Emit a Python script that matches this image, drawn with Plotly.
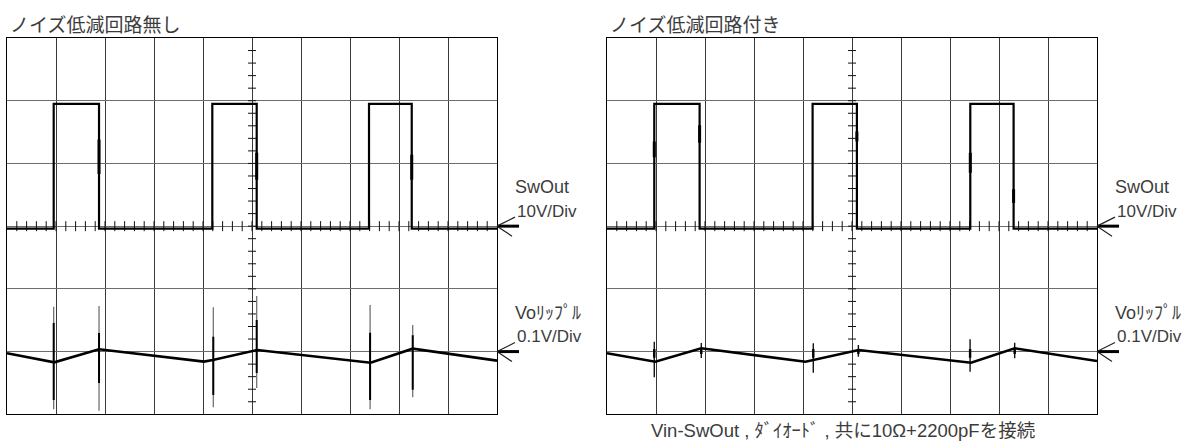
import plotly.graph_objects as go

W, H = 1189, 443

# ---- waveform data (time in divisions, SwOut in volts, Vo ripple in mV) ----
SW_LOW_V = -0.4
SW_HIGH_V = 19.5
SW_EDGES_NO_FILTER = [0.953, 1.878, 4.19, 5.096, 7.388, 8.26]      # rise, fall, rise, fall, ...
SW_EDGES_FILTER = [0.965, 1.89, 4.196, 5.10, 7.414, 8.298]

# thicker bursts on the switching edges: (time, upper V, lower V)
SW_RING_NO_FILTER = [(1.878, 13.8, 8.3), (5.096, 11.7, 7.4), (8.26, 11.4, 7.4)]
SW_RING_FILTER = [(0.965, 13.5, 11.0), (1.89, 16.1, 13.3), (5.10, 15.1, 13.5),
                  (7.414, 11.7, 8.5), (8.298, 5.9, 3.7)]

RIP_T_NO_FILTER = [0.0, 0.965, 1.878, 4.02, 4.2, 5.108, 7.42, 8.28, 10.0]
RIP_MV_NO_FILTER = [-2.7, -17.1, 3.7, -16.0, -13.5, 2.6, -17.7, 4.6, -14.5]
RIP_T_FILTER = [0.0, 0.986, 1.924, 4.05, 5.135, 7.43, 8.32, 10.0]
RIP_MV_FILTER = [-2.7, -16.1, 5.3, -16.1, 2.6, -17.7, 5.3, -15.0]

# switching spikes on Vo: (time, top mV, bottom mV, core top mV, core bottom mV)
SPIKES_NO_FILTER = [
    (0.953, 71.6, -92.0, 45.6, -77.2),
    (1.878, 72.7, -94.2, 29.7, -50.0),
    (4.21, 70.6, -88.8, 23.8, -69.2),
    (5.096, 88.6, -58.0, 50.4, -34.1),
    (7.41, 74.3, -92.0, 30.1, -77.2),
    (8.28, 42.4, -72.9, 26.0, -61.0),
]
SPIKES_FILTER = [
    (0.965, 15.8, -41.0, 4.0, -10.0),
    (1.924, 13.7, -10.2, 4.0, -4.0),
    (4.21, 13.2, -33.6, 4.0, -10.0),
    (5.13, 10.5, -8.1, 4.0, -4.0),
    (7.41, 19.6, -32.0, 4.0, -10.0),
    (8.32, 14.2, -10.7, 4.0, -4.0),
]

TITLES = ["ノイズ低減回路無し", "ノイズ低減回路付き"]
SW_LABEL = ["SwOut", "10V/Div"]
VO_LABEL = ["Voﾘｯﾌﾟﾙ", "0.1V/Div"]
CAPTION = "Vin-SwOut , ﾀﾞｲｵｰﾄﾞ , 共に10Ω+2200pFを接続"

SW_V_PER_DIV = 10.0
VO_MV_PER_DIV = 100.0
SW_REF_DIV = 0.0
VO_REF_DIV = -2.0

# ---- screen geometry ----
PANEL_X = [(7, 497), (607, 1097)]
PANEL_TOP, PANEL_BOT = 38, 414.3
N_X, N_Y = 10, 6


def px(x):
    return x / W


def py(y):
    return 1 - y / H


def sw_div(v):
    return SW_REF_DIV + v / SW_V_PER_DIV


def vo_div(mv):
    return VO_REF_DIV + mv / VO_MV_PER_DIV


def square_wave(edges):
    xs, ys = [0.0], [SW_LOW_V]
    level = SW_LOW_V
    for t in edges:
        xs.append(t)
        ys.append(level)
        level = SW_HIGH_V if level == SW_LOW_V else SW_LOW_V
        xs.append(t)
        ys.append(level)
    xs.append(float(N_X))
    ys.append(level)
    return xs, [sw_div(v) for v in ys]


def graticule_ticks():
    xs, ys = [], []
    hx = 0.082  # half tick length on the vertical centre line (x units)
    hy = 0.08   # half tick length on the horizontal centre line (y units)
    for k in range(1, N_X * 5):
        t = k * 0.2
        xs += [t, t, None]
        ys += [-hy, hy, None]
    for k in range(1, N_Y * 5):
        v = -N_Y / 2 + k * 0.2
        xs += [N_X / 2 - hx, N_X / 2 + hx, None]
        ys += [v, v, None]
    return xs, ys


def segs(items, conv, i_top, i_bot):
    xs, ys = [], []
    for it in items:
        xs += [it[0], it[0], None]
        ys += [conv(it[i_top]), conv(it[i_bot]), None]
    return xs, ys


fig = go.Figure()

panels = [
    (SW_EDGES_NO_FILTER, SW_RING_NO_FILTER, RIP_T_NO_FILTER, RIP_MV_NO_FILTER, SPIKES_NO_FILTER, True),
    (SW_EDGES_FILTER, SW_RING_FILTER, RIP_T_FILTER, RIP_MV_FILTER, SPIKES_FILTER, False),
]

for i, (edges, rings, rt, rmv, spikes, big) in enumerate(panels):
    xa = "x" if i == 0 else "x2"
    ya = "y" if i == 0 else "y2"

    tx, ty = graticule_ticks()
    fig.add_trace(go.Scatter(x=tx, y=ty, mode="lines", xaxis=xa, yaxis=ya,
                             line=dict(color="#111", width=1), hoverinfo="skip"))

    # Vo ripple spikes: faint outer extent, darker core
    sx, sy = segs(spikes, vo_div, 1, 2)
    fig.add_trace(go.Scatter(x=sx, y=sy, mode="lines", xaxis=xa, yaxis=ya,
                             line=dict(color="#666" if big else "#111", width=1.2 if big else 1.4),
                             hoverinfo="skip"))
    cx, cy = segs(spikes, vo_div, 3, 4)
    fig.add_trace(go.Scatter(x=cx, y=cy, mode="lines", xaxis=xa, yaxis=ya,
                             line=dict(color="#000", width=2.0 if big else 2.4), hoverinfo="skip"))

    # Vo ripple
    fig.add_trace(go.Scatter(x=rt, y=[vo_div(v) for v in rmv], mode="lines", xaxis=xa, yaxis=ya,
                             line=dict(color="#000", width=2.6), hoverinfo="skip"))

    # SwOut square wave
    qx, qy = square_wave(edges)
    fig.add_trace(go.Scatter(x=qx, y=qy, mode="lines", xaxis=xa, yaxis=ya,
                             line=dict(color="#000", width=2.2, shape="linear"), hoverinfo="skip"))
    rx, ry = segs(rings, sw_div, 1, 2)
    fig.add_trace(go.Scatter(x=rx, y=ry, mode="lines", xaxis=xa, yaxis=ya,
                             line=dict(color="#000", width=3.0), hoverinfo="skip"))

axis_common_x = dict(range=[0, N_X], dtick=1, tick0=0, showgrid=True, gridcolor="#3a3a3a",
                     gridwidth=1, zeroline=False, showticklabels=False, ticks="",
                     showline=True, mirror=True, linecolor="#000", linewidth=1, fixedrange=True)
axis_common_y = dict(range=[-N_Y / 2, N_Y / 2], dtick=1, tick0=0, showgrid=True, gridcolor="#6e6e6e",
                     gridwidth=1, zeroline=False, showticklabels=False, ticks="",
                     showline=True, mirror=True, linecolor="#000", linewidth=1, fixedrange=True)

ydom = [py(PANEL_BOT), py(PANEL_TOP)]
fig.update_layout(
    width=W, height=H,
    margin=dict(l=0, r=0, t=0, b=0),
    paper_bgcolor="white", plot_bgcolor="white",
    showlegend=False,
    xaxis=dict(domain=[px(PANEL_X[0][0]), px(PANEL_X[0][1])], anchor="y", **axis_common_x),
    yaxis=dict(domain=ydom, anchor="x", **axis_common_y),
    xaxis2=dict(domain=[px(PANEL_X[1][0]), px(PANEL_X[1][1])], anchor="y2", **axis_common_x),
    yaxis2=dict(domain=ydom, anchor="x2", **axis_common_y),
)

JP_FONT = "Noto Sans CJK JP, sans-serif"
LBL_FONT = "Liberation Sans, Noto Sans CJK JP, sans-serif"
TXT = "#3c3c3c"

annotations = []
shapes = []
for i, (x0, x1) in enumerate(PANEL_X):
    annotations.append(dict(text=TITLES[i], x=px(x0 + 1), y=py(24), xref="paper", yref="paper",
                            xanchor="left", yanchor="middle", showarrow=False,
                            font=dict(family=JP_FONT, size=19, color=TXT)))
    sw_y = PANEL_TOP + (N_Y / 2 - SW_REF_DIV) * (PANEL_BOT - PANEL_TOP) / N_Y
    vo_y = PANEL_TOP + (N_Y / 2 - VO_REF_DIV) * (PANEL_BOT - PANEL_TOP) / N_Y
    for ref_y, lbl in ((sw_y, SW_LABEL), (vo_y, VO_LABEL)):
        annotations.append(dict(text=lbl[0], x=px(x1 + 16), y=py(ref_y - 39), xref="paper", yref="paper",
                                xanchor="left", yanchor="middle", showarrow=False,
                                font=dict(family=LBL_FONT, size=18, color=TXT)))
        annotations.append(dict(text=lbl[1], x=px(x1 + 18), y=py(ref_y - 15), xref="paper", yref="paper",
                                xanchor="left", yanchor="middle", showarrow=False,
                                font=dict(family=LBL_FONT, size=17, color=TXT)))
        # reference arrow
        shapes.append(dict(type="line", xref="paper", yref="paper", x0=px(x1), y0=py(ref_y),
                           x1=px(x1 + 22), y1=py(ref_y), line=dict(color="#000", width=3)))
        shapes.append(dict(type="line", xref="paper", yref="paper", x0=px(x1), y0=py(ref_y),
                           x1=px(x1 + 18), y1=py(ref_y - 9), line=dict(color="#222", width=1.2)))
        shapes.append(dict(type="line", xref="paper", yref="paper", x0=px(x1), y0=py(ref_y),
                           x1=px(x1 + 15), y1=py(ref_y + 10), line=dict(color="#222", width=1.2)))

annotations.append(dict(text=CAPTION, x=px(843), y=py(430), xref="paper", yref="paper",
                        xanchor="center", yanchor="middle", showarrow=False,
                        font=dict(family=LBL_FONT, size=18.5, color=TXT)))

fig.update_layout(annotations=annotations, shapes=shapes)
fig.write_html("out.html")
